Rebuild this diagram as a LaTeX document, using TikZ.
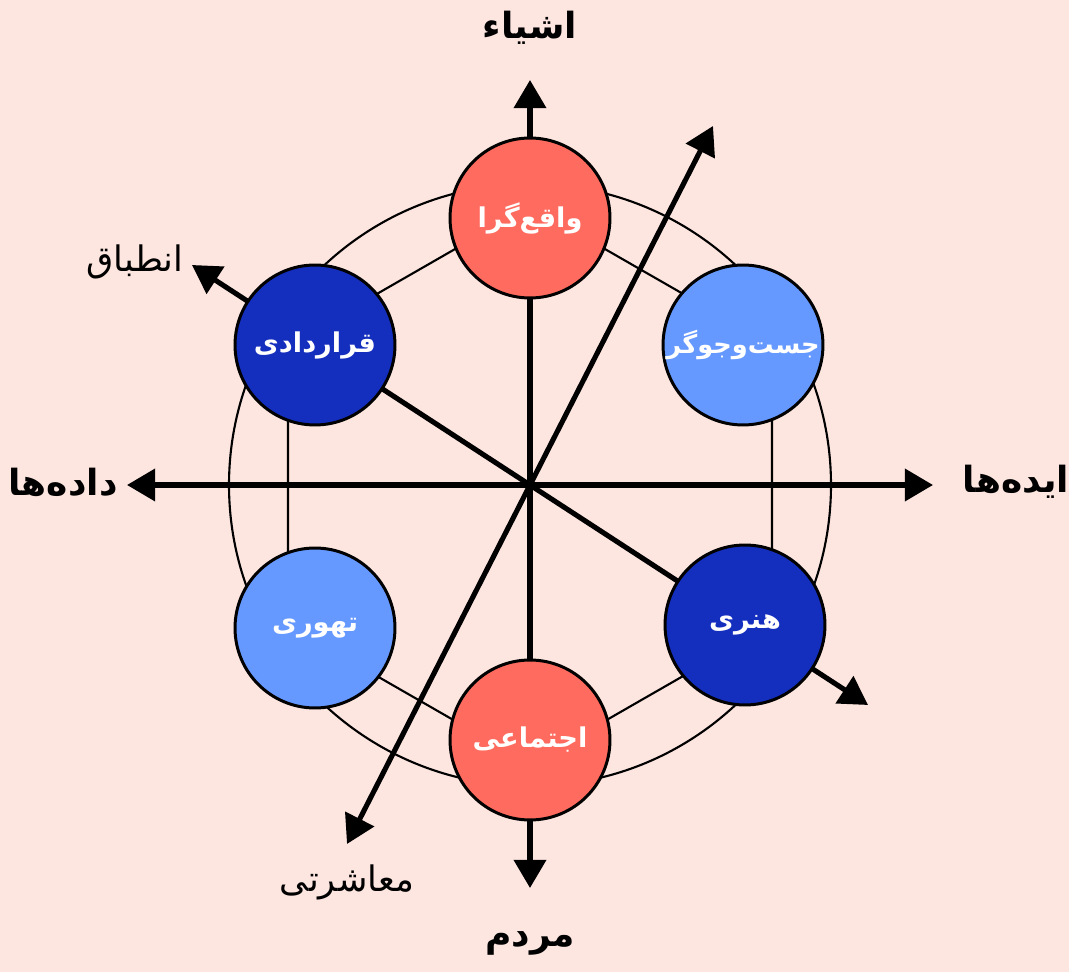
\documentclass[tikz,border=0pt]{standalone}
\usepackage{fontspec}
\usetikzlibrary{arrows.meta}
\newfontfamily\arabicfont[Script=Arabic]{DejaVu Sans}
\TeXXeTstate=1
\newcommand{\artxt}[1]{{\arabicfont\beginR #1\endR}}
\definecolor{bgpink}{HTML}{FEE6E0}
\definecolor{cred}{HTML}{FF6B5F}
\definecolor{cdark}{HTML}{142EBE}
\definecolor{clight}{HTML}{6699FF}
\tikzset{
  axisline/.style={line width=2.9pt,-{Triangle[length=16pt,width=18pt]}},
  thinline/.style={line width=1.2pt},
  circ/.style={circle,draw=black,line width=1.7pt,minimum size=3.2cm,inner sep=0pt,text=white,font=\fontsize{15.5}{18}\selectfont\bfseries},
  biglabel/.style={font=\fontsize{20.5}{24}\selectfont\bfseries,text=black},
  smalllabel/.style={font=\fontsize{20}{24}\selectfont,text=black}
}
\begin{document}
\begin{tikzpicture}[x=0.02cm,y=-0.02cm]
\fill[bgpink] (0,0) rectangle (1069,972);
\useasboundingbox (0,0) rectangle (1069,972);
\coordinate (C) at (530,485);
% big circle
\draw[thinline] (C) circle[radius=301];
% hexagon
\coordinate (h1) at (530,206);
\coordinate (h2) at (772,345);
\coordinate (h3) at (772,625);
\coordinate (h4) at (530,764);
\coordinate (h5) at (288,625);
\coordinate (h6) at (288,345);
\draw[thinline] (h1) -- (h2) -- (h3) -- (h4) -- (h5) -- (h6) -- cycle;
% arrow tips
\coordinate (tN) at (530,80);
\coordinate (tS) at (530,888);
\coordinate (tW) at (127,485);
\coordinate (tE) at (933,485);
\coordinate (tNW) at (192,265);
\coordinate (tSE) at (868,705);
\coordinate (tNE) at (713,126);
\coordinate (tSW) at (347,844);
\draw[axisline] (C) -- (tN);
\draw[axisline] (C) -- (tS);
\draw[axisline] (C) -- (tW);
\draw[axisline] (C) -- (tE);
\draw[axisline] (C) -- (tNW);
\draw[axisline] (C) -- (tSE);
\draw[axisline] (C) -- (tNE);
\draw[axisline] (C) -- (tSW);
% circles
\node[circ,fill=cred] (real) at (530,218) {\artxt{واقع‌گرا}};
\node[circ,fill=clight,font=\fontsize{14.6}{18}\selectfont\bfseries] (search) at (743,345) {\artxt{جست‌وجوگر}};
\node[circ,fill=cdark] (conv) at (315,345) {\artxt{قراردادی}};
\node[circ,fill=clight] (theo) at (315,628) {\artxt{تهوری}};
\node[circ,fill=cdark] (art) at (745,625) {\artxt{هنری}};
\node[circ,fill=cred] (soc) at (530,740) {\artxt{اجتماعی}};
% outer labels
\node[biglabel] (lN) at (530,28) {\artxt{اشیاء}};
\node[biglabel] (lS) at (530,943) {\artxt{مردم}};
\node[biglabel] (lW) at (63,482) {\artxt{داده‌ها}};
\node[biglabel] (lE) at (1016,482) {\artxt{ایده‌ها}};
\node[smalllabel] (lNW) at (135,262) {\artxt{انطباق}};
\node[smalllabel] (lSW) at (347,882) {\artxt{معاشرتی}};
\end{tikzpicture}
\end{document}
